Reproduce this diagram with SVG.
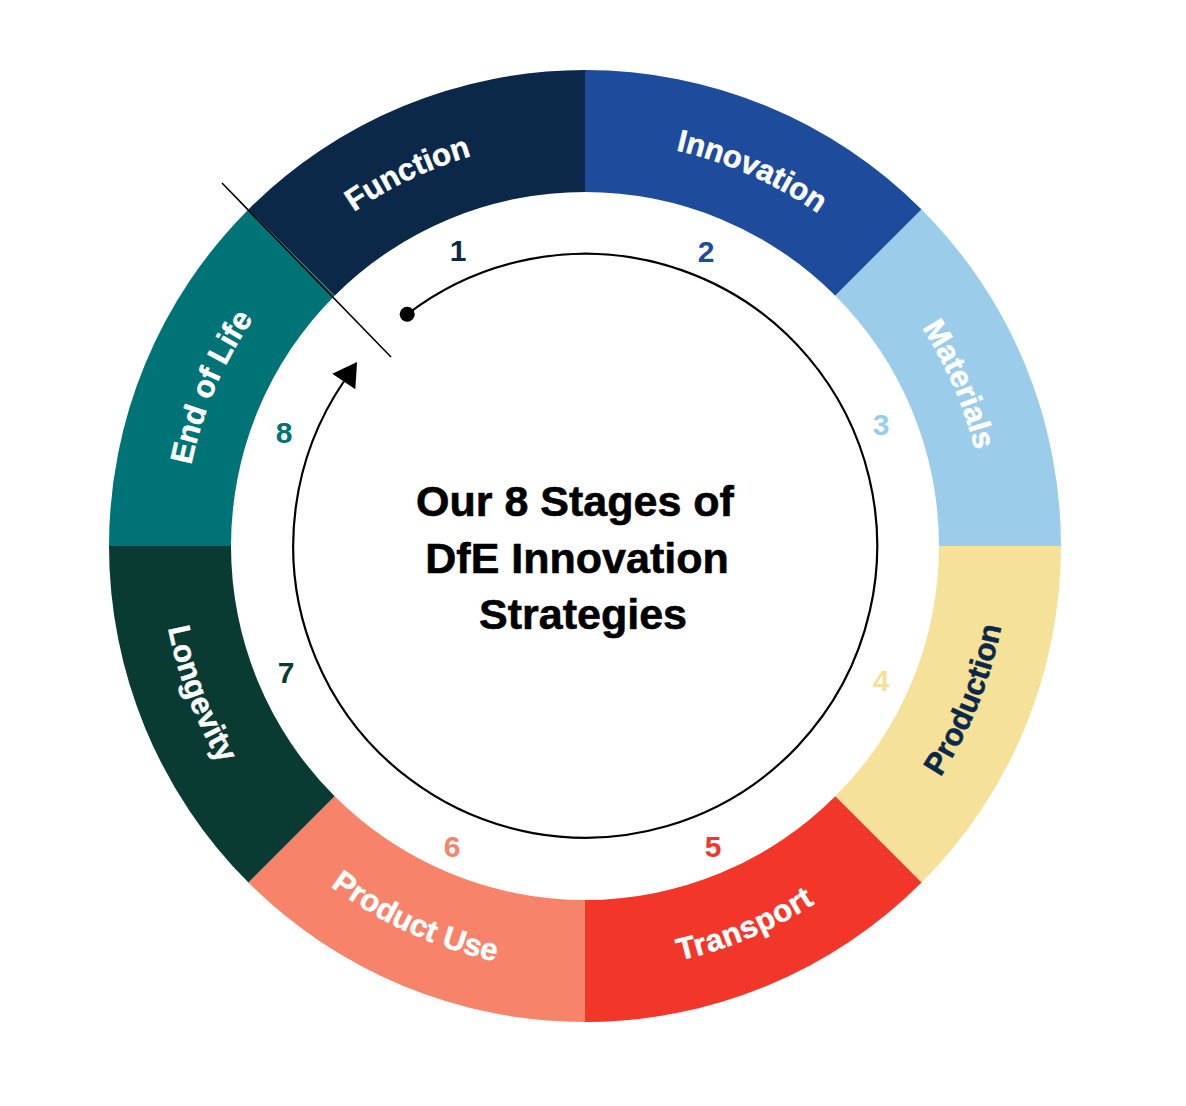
<svg xmlns="http://www.w3.org/2000/svg" width="1186" height="1106" viewBox="0 0 1186 1106">
<style>
.lbl{font-family:"Liberation Sans",Arial,sans-serif;font-weight:bold;font-size:31px;fill:#ffffff;stroke:#ffffff;stroke-width:0.5}
.lbl-dark{fill:#0C2849;stroke:#0C2849}
.num{font-family:"Liberation Sans",Arial,sans-serif;font-weight:bold;font-size:30px;text-anchor:middle}
.title{font-family:"Liberation Sans",Arial,sans-serif;font-weight:bold;font-size:43px;fill:#000;stroke:#000;stroke-width:0.6;text-anchor:middle}
</style>
<defs>
<path id="pFunction" d="M215.5,376.8 A406,406 0 0 1 686.6,153.0"/>
<path id="pInnovation" d="M473.1,155.7 A406,406 0 0 1 949.9,368.0"/>
<path id="pMaterials" d="M764.3,187.1 A402,402 0 0 1 970.0,661.5"/>
<path id="pProduction" d="M784.1,920.4 A424,424 0 0 0 988.3,415.0"/>
<path id="pTransport" d="M457.2,951.3 A425,425 0 0 0 962.3,742.2"/>
<path id="pProductUse" d="M201.4,728.9 A425,425 0 0 0 698.6,955.5"/>
<path id="pLongevity" d="M183.2,407.6 A425,425 0 0 0 379.0,917.7"/>
<path id="pEndOfLife" d="M200.6,663.5 A402,402 0 0 1 402.5,187.8"/>
<marker id="arrow" markerUnits="userSpaceOnUse" markerWidth="30" markerHeight="30" viewBox="0 -14 24 28" refX="0" refY="0" orient="auto">
<path d="M0,-13 L22,0 L0,13 Z" fill="#000"/>
</marker>
</defs>
<rect width="1186" height="1106" fill="#ffffff"/>

<g id="function">
<path d="M248.42,209.42 A476,476 0 0 1 585,70 L585,192 A354,354 0 0 0 334.68,295.68 Z" fill="#0C2849"/>
<text class="lbl"><textPath href="#pFunction" startOffset="50%" text-anchor="middle">Function</textPath></text>
<text class="num" x="458" y="261" fill="#0C2849">1</text>
</g>
<g id="innovation">
<path d="M585,70 A476,476 0 0 1 921.58,209.42 L835.32,295.68 A354,354 0 0 0 585,192 Z" fill="#1E4B9B"/>
<text class="lbl"><textPath href="#pInnovation" startOffset="50%" text-anchor="middle">Innovation</textPath></text>
<text class="num" x="706" y="262" fill="#1E4B9B">2</text>
</g>
<g id="materials">
<path d="M921.58,209.42 A476,476 0 0 1 1061,546 L939,546 A354,354 0 0 0 835.32,295.68 Z" fill="#9BCDEB"/>
<text class="lbl"><textPath href="#pMaterials" startOffset="50%" text-anchor="middle">Materials</textPath></text>
<text class="num" x="881" y="435" fill="#9BCDEB">3</text>
</g>
<g id="production">
<path d="M1061,546 A476,476 0 0 1 921.58,882.58 L835.32,796.32 A354,354 0 0 0 939,546 Z" fill="#F5E199"/>
<text class="lbl lbl-dark"><textPath href="#pProduction" startOffset="50%" text-anchor="middle">Production</textPath></text>
<text class="num" x="881" y="691" fill="#F5E199">4</text>
</g>
<g id="transport">
<path d="M921.58,882.58 A476,476 0 0 1 585,1022 L585,900 A354,354 0 0 0 835.32,796.32 Z" fill="#F2362A"/>
<text class="lbl" letter-spacing="0.6"><textPath href="#pTransport" startOffset="50.4%" text-anchor="middle">Transport</textPath></text>
<text class="num" x="713" y="857" fill="#F2362A">5</text>
</g>
<g id="product-use">
<path d="M585,1022 A476,476 0 0 1 248.42,882.58 L334.68,796.32 A354,354 0 0 0 585,900 Z" fill="#F7836A"/>
<text class="lbl"><textPath href="#pProductUse" startOffset="50%" text-anchor="middle">Product Use</textPath></text>
<text class="num" x="452" y="857" fill="#F7836A">6</text>
</g>
<g id="longevity">
<path d="M248.42,882.58 A476,476 0 0 1 109,546 L231,546 A354,354 0 0 0 334.68,796.32 Z" fill="#0A3B33"/>
<text class="lbl"><textPath href="#pLongevity" startOffset="50%" text-anchor="middle">Longevity</textPath></text>
<text class="num" x="286" y="683" fill="#0A3B33">7</text>
</g>
<g id="end-of-life">
<path d="M109,546 A476,476 0 0 1 248.42,209.42 L334.68,295.68 A354,354 0 0 0 231,546 Z" fill="#007376"/>
<text class="lbl"><textPath href="#pEndOfLife" startOffset="50%" text-anchor="middle">End of Life</textPath></text>
<text class="num" x="284" y="443" fill="#007376">8</text>
</g>

<g id="center-title">
<text class="title" x="575" y="516">Our 8 Stages of</text>
<text class="title" x="577" y="573">DfE Innovation</text>
<text class="title" x="583" y="629">Strategies</text>
</g>

<g id="connectors">
<line x1="222" y1="183" x2="391" y2="357" stroke="#000" stroke-width="1.6"/>
<circle cx="407.2" cy="314.3" r="7.5" fill="#000"/>
<path d="M407.2,314.3 A292,292 0 1 1 343.8,381.5" fill="none" stroke="#000" stroke-width="2.2" marker-end="url(#arrow)"/>
</g>
</svg>
